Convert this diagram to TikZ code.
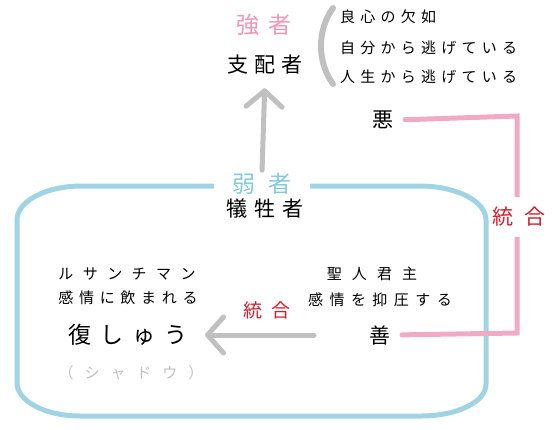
\documentclass[tikz,border=0pt]{standalone}
\usepackage{fontspec}
\newfontfamily\jp{Noto Sans CJK JP}
\usetikzlibrary{arrows.meta}

\definecolor{boxblue}{RGB}{160,212,228}
\definecolor{linkpink}{RGB}{241,170,196}
\definecolor{arrowgray}{RGB}{192,192,192}
\definecolor{strongpink}{RGB}{240,150,180}
\definecolor{weakblue}{RGB}{130,200,222}
\definecolor{mergered}{RGB}{210,30,45}

\newcommand\jfont[2]{\jp\fontsize{#1}{#1}\selectfont\addfontfeature{LetterSpace=#2}}

\tikzset{
  grayarrow/.style={draw=arrowgray, line width=5pt, line cap=round,
    -{Straight Barb[length=16pt,width=36pt,round]}},
  pinkline/.style={draw=linkpink, line width=5pt, line cap=round},
  boxline/.style={draw=boxblue, line width=5pt},
  small/.style={font=\jfont{15}{#1}, inner sep=2pt},
}

\begin{document}
\begin{tikzpicture}[x=1pt,y=-1pt]
      \useasboundingbox (0,0) rectangle (552,429);
      \begin{scope}
        \node[text=strongpink, font=\jfont{23}{43}] (strong) at (264,25) {強者};
        \node[font=\jfont{21}{29}] (ruler) at (265,65) {支配者};
        \draw[draw=arrowgray, line width=6pt, line cap=round]
          (333,8) .. controls (317,30) and (317,62) .. (333,84);
        \node[small=35, anchor=west] (cons) at (338,17) {良心の欠如};
        \node[small=35, anchor=west] (flee) at (338,48) {自分から逃げている};
        \node[small=35, anchor=west] (life) at (338,77) {人生から逃げている};
        \node[font=\jfont{21}{0}] (evil) at (383,120) {悪};
      \end{scope}
      \begin{scope}
        \draw[boxline] (82,186) -- (420,186)
          .. controls (456,186) and (486,201) .. (486,220) -- (486,384)
          .. controls (486,402) and (457,416) .. (421,416) -- (80,416)
          .. controls (45,416) and (17,401) .. (17,383) -- (17,220)
          .. controls (17,201) and (46,186) .. cycle;
        \node[text=weakblue, fill=white, inner xsep=18pt, inner ysep=1pt,
          font=\jfont{23}{60}] (weak) at (262,184) {弱者};
        \node[font=\jfont{21}{33}] (victim) at (265,208) {犠牲者};
        \node[small=63] (ressent) at (127,274) {ルサンチマン};
        \node[small=38] (swallow) at (128,298) {感情に飲まれる};
        \node[font=\jfont{23}{39}] (revenge) at (128,335) {復しゅう};
        \node[small=73, text=arrowgray] (shadow) at (131,373) {（シャドウ）};
        \node[small=67] (saint) at (372,274) {聖人君主};
        \node[small=43] (repress) at (380,300) {感情を抑圧する};
        \node[font=\jfont{21}{0}] (good) at (380,335) {善};
      \end{scope}
      \begin{scope}
        \draw[grayarrow, shorten <=2pt, shorten >=10pt] (weak.north) -- (ruler.south);
        \draw[grayarrow, shorten <=52pt, shorten >=14pt] (good.west) -- (revenge.east);
        \node[text=mergered, font=\jfont{19}{47}] (merge) at (267,310) {統合};
        \coordinate (topturn) at (517,116);
        \coordinate (lowturn) at (517,333);
        \draw[pinkline, shorten <=8pt, shorten >=8pt]
          (evil.east) -- (topturn) -- (lowturn) -- (good.east);
        \node[text=mergered, fill=white, inner xsep=2pt, inner ysep=10pt,
          font=\jfont{21}{52}] (join) at (519,217) {統合};
      \end{scope}
    \end{tikzpicture}
\end{document}
